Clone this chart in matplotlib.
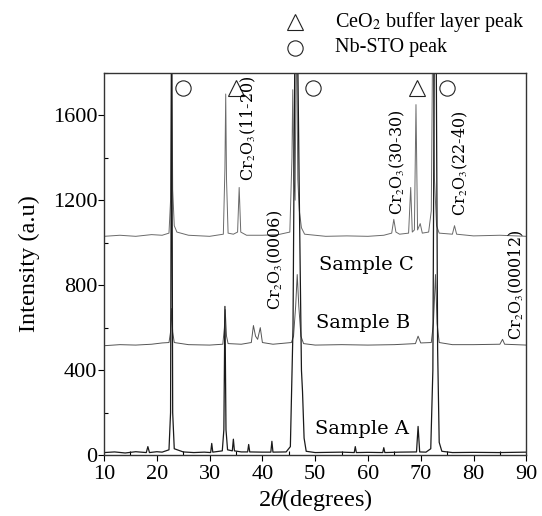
import numpy as np
import matplotlib
matplotlib.use('Agg')
import matplotlib.pyplot as plt
from matplotlib.lines import Line2D
from matplotlib.ticker import MultipleLocator

plt.rcParams['font.family'] = ['Liberation Serif', 'DejaVu Serif']
plt.rcParams['mathtext.fontset'] = 'stix'

# 2theta / intensity points (values above 1800 are clipped by the axes)
tt_a = [10, 12, 14, 16, 18, 18.3, 18.6, 20, 21, 22.3, 22.6, 22.8, 23.0, 23.3, 25, 27, 29,
        30.2, 30.4, 30.6, 32.4, 32.7, 32.9, 33.1, 33.4, 34.3, 34.5, 34.7, 36, 37.2, 37.4,
        37.6, 40, 41.6, 41.8, 42.0, 44.5, 45.3, 45.8, 46.2, 46.6, 47.0, 47.4, 47.6, 47.9,
        48.3, 50, 55, 57.4, 57.6, 57.8, 60, 62.8, 63.0, 63.2, 66, 69.2, 69.5, 69.8, 71,
        71.9, 72.3, 72.6, 72.9, 73.2, 73.5, 74, 76, 80, 85, 90]
int_a = [12, 15, 10, 16, 12, 40, 12, 16, 14, 25, 200, 2100, 200, 30, 15, 12, 14,
         12, 55, 14, 20, 120, 700, 120, 25, 20, 75, 20, 15, 15, 50,
         15, 14, 14, 65, 14, 15, 40, 600, 2100, 2100, 1200, 400, 300, 80,
         18, 12, 14, 12, 40, 12, 13, 12, 35, 12, 14, 15, 135, 15, 14,
         30, 400, 2100, 2100, 500, 60, 18, 12, 13, 12, 14]

tt_b = [10, 13, 16, 19, 21, 22.3, 22.6, 22.8, 23.0, 23.3, 26, 30, 32.5, 32.8, 32.95, 33.2,
        33.5, 36, 37.9, 38.3, 38.7, 39.1, 39.6, 40.0, 42, 45.5, 45.9, 46.3, 46.6, 46.9,
        47.3, 47.8, 50, 55, 60, 65, 69.0, 69.5, 70.0, 72.0, 72.4, 72.8, 73.1, 73.5, 76,
        80, 85, 85.5, 85.9, 88, 90]
int_b = [515, 520, 518, 522, 528, 530, 580, 690, 580, 530, 520, 518, 522, 600, 685, 560,
         525, 522, 530, 610, 560, 545, 600, 530, 522, 530, 560, 700, 850, 700,
         560, 525, 518, 520, 518, 520, 525, 560, 528, 530, 620, 850, 620, 530, 520,
         520, 522, 545, 522, 520, 518]

tt_c = [10, 13, 16, 19, 21, 22.3, 22.6, 22.8, 23.0, 23.3, 23.8, 26, 30, 32.6, 32.9, 33.05,
        33.2, 33.5, 34.5, 35.3, 35.6, 35.9, 37, 40, 43, 45.2, 45.6, 45.75, 45.95, 46.2,
        46.45, 46.7, 47.0, 47.4, 48, 52, 56, 60, 63, 64.5, 64.9, 65.3, 66, 67.7, 68.1,
        68.4, 68.8, 69.1, 69.4, 69.9, 70.3, 71.5, 72.0, 72.3, 72.6, 73.0, 73.5, 76.0,
        76.4, 76.8, 80, 85, 90]
int_c = [1030, 1035, 1030, 1038, 1035, 1045, 1200, 2100, 1250, 1080, 1050, 1035, 1030,
         1040, 1350, 1700, 1300, 1045, 1040, 1050, 1260, 1050, 1035, 1035, 1038, 1050,
         1400, 1720, 1300, 1200, 2100, 1300, 1150, 1070, 1040, 1030, 1032, 1030, 1035,
         1045, 1110, 1050, 1040, 1045, 1260, 1050, 1060, 1650, 1060, 1090, 1045, 1050,
         1150, 2100, 1300, 1080, 1045, 1040, 1080, 1040, 1032, 1035, 1030]

# peak markers
circle_tt = [25, 49.5, 75]
triangle_tt = [35, 69.3]
marker_int = 1730

fig = plt.figure(figsize=(5.42, 5.16), dpi=100)
ax = fig.add_axes([0.192, 0.118, 0.779, 0.741])

ax.plot(tt_c, int_c, color='#6a6a6a', lw=0.7)
ax.plot(tt_b, int_b, color='#555555', lw=0.7)
ax.plot(tt_a, int_a, color='#1a1a1a', lw=0.9)

ax.plot(circle_tt, [marker_int] * len(circle_tt), 'o', ms=11, mfc='none', mec='#222222', mew=0.8)
ax.plot(triangle_tt, [marker_int] * len(triangle_tt), '^', ms=11, mfc='none', mec='#222222', mew=0.8)

ax.set_xlim(10, 90)
ax.set_ylim(0, 1800)
ax.xaxis.set_major_locator(MultipleLocator(10))
ax.xaxis.set_minor_locator(MultipleLocator(5))
ax.yaxis.set_major_locator(MultipleLocator(400))
ax.yaxis.set_minor_locator(MultipleLocator(200))
ax.tick_params(which='major', direction='out', length=4, width=0.8, labelsize=16)
ax.tick_params(axis='y', which='major', pad=1)
ax.tick_params(axis='x', which='major', pad=3)
ax.tick_params(which='minor', direction='in', length=3, width=0.8)
for s in ax.spines.values():
    s.set_linewidth(1.0)
    s.set_color('#333333')

ax.set_xlabel(r'2$\theta$(degrees)', fontsize=17.5, labelpad=2)
ax.set_ylabel('Intensity (a.u)', fontsize=17.5, labelpad=9)

# sample names
lab = dict(family='DejaVu Serif', fontsize=14, ha='center', va='center')
ax.text(59.7, 894, 'Sample C', **lab)
ax.text(59.1, 621, 'Sample B', **lab)
ax.text(58.9, 122, 'Sample A', **lab)

# Cr2O3 reflections
rot = dict(family='DejaVu Serif', fontsize=11.5, ha='center', va='center', rotation=90)
ax.text(37.3, 1540, r'Cr$_2$O$_3$(11-20)', **rot)
ax.text(42.4, 918, r'Cr$_2$O$_3$(0006)', **rot)
ax.text(65.5, 1379, r'Cr$_2$O$_3$(30-30)', **rot)
ax.text(77.5, 1374, r'Cr$_2$O$_3$(22-40)', **rot)
ax.text(88.1, 800, r'Cr$_2$O$_3$(00012)', **rot)

# key above the axes
W, H = 542.0, 516.0
fig.add_artist(Line2D([295 / W], [1 - 22 / H], marker='^', ms=12, mfc='none', mec='#222222', mew=0.8))
fig.add_artist(Line2D([295 / W], [1 - 48 / H], marker='o', ms=11, mfc='none', mec='#222222', mew=0.8))
fig.text(335 / W, 1 - 22 / H, r'CeO$_2$ buffer layer peak', fontsize=14.5, va='center')
fig.text(335 / W, 1 - 48 / H, 'Nb-STO peak', fontsize=14.5, va='center')

fig.savefig('out.png', dpi=100)
